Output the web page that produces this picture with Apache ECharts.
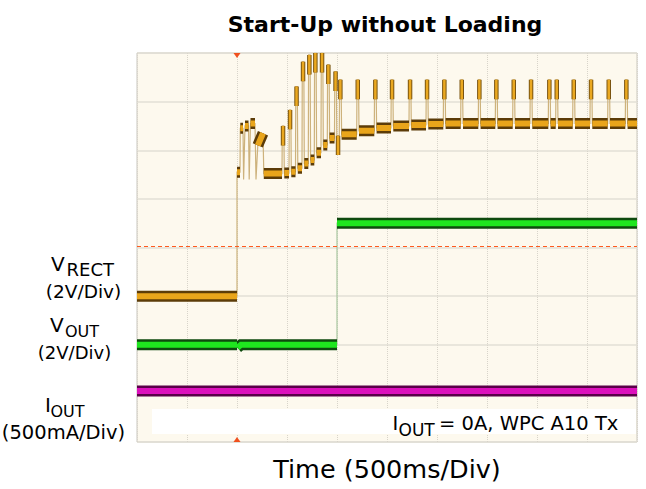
<!DOCTYPE html>
<html><head><meta charset="utf-8">
<script src="https://cdn.jsdelivr.net/npm/echarts@6/dist/echarts.min.js"></script>
<style>html,body{margin:0;padding:0;background:#fff}#c{width:646px;height:489px}</style>
</head><body><div id="c"></div>
<script>
// ---- data (time in ms, amplitude in scope divisions) ----
const timeRange = [0, 5000];          // 10 div x 500 ms
const divRange = [0, 8];              // 8 vertical divisions
const triggerTime = 1000;
const triggerLevel = 4.02;

// VRECT: idle, jump and early bursts (irregular part)
const vrectEarly = [[0,3.0],[1000,3.0],[1000,5.55],[1030,5.55],[1033,6.45],[1060,6.45],[1066,5.4],[1080,6.5],[1115,6.5],[1122,5.4],[1135,6.55],[1180,6.55],[1190,5.4],[1208,6.1],[1260,6.35],[1268,5.52],[1450,5.52]];
// VRECT communication pulses: start time, peak level, level after pulse
const pulseTimes = [1450,1520,1585,1650,1713,1773,1840,1903,1975,2023,2197,2373,2540,2720,2890,3063,3237,3413,3583,3757,3930,4113,4187,4357,4530,4707,4883];
const pulseTops  = [6.5,6.83,7.31,7.82,7.96,8.0,8.0,7.76,7.62,7.45,7.45,7.45,7.45,7.45,7.45,7.45,7.45,7.45,7.45,7.45,7.45,7.45,7.45,7.45,7.45,7.45,7.45];
const pulseBase  = [5.53,5.56,5.63,5.73,5.8,5.95,6.11,6.25,6.3,6.33,6.40,6.46,6.50,6.52,6.54,6.55,6.55,6.55,6.55,6.55,6.55,6.55,6.55,6.55,6.55,6.55,6.55];

// VOUT and IOUT
const voutTrace = [[0,2.0],[1000,2.0],[1005,1.94],[1040,2.0],[2000,2.0],[2000,4.5],[5000,4.5]];
const ioutTrace = [[0,1.05],[5000,1.05]];

// ---- build traces from the arrays ----
const vrectTrace = vrectEarly.slice();
for (let i = 0; i < pulseTimes.length; i++) {
  const t = pulseTimes[i];
  vrectTrace.push([t + 3, pulseTops[i]], [t + 18, pulseTops[i]], [t + 23, pulseBase[i]]);
  const next = i + 1 < pulseTimes.length ? pulseTimes[i + 1] : timeRange[1];
  vrectTrace.push([next, pulseBase[i]]);
}
function bands(trace, minDt) {
  const out = [];
  let last = null;
  for (let i = 0; i < trace.length - 1; i++) {
    const a = trace[i], b = trace[i + 1];
    if (b[0] - a[0] > minDt) {
      if (!(last && last[0] === a[0] && last[1] === a[1])) {
        if (out.length) out.push([a[0], null]);
        out.push(a);
      }
      out.push(b);
      last = b;
    }
  }
  return out;
}
function blobs(trace, maxDt, len) {
  const out = [];
  for (let i = 0; i < trace.length - 1; i++) {
    const a = trace[i], b = trace[i + 1];
    const dt = b[0] - a[0];
    if (dt > 0 && dt <= maxDt && a[1] === b[1]) {
      const m = (a[0] + b[0]) / 2;
      if (out.length) out.push([m, null]);
      out.push([m, a[1] - len], [m, a[1]]);
    }
  }
  return out;
}

const FONT = 'DejaVu Sans';
function line(name, data, color, width, z, extra) {
  return Object.assign({
    type: 'line', name, data, showSymbol: false, symbol: 'none', silent: true,
    connectNulls: false, animation: false, z,
    lineStyle: { color, width, cap: 'butt', join: 'miter' }
  }, extra || {});
}
function txt(text, x, y, size, align) {
  return { type: 'text', z: 10, style: {
    text, x, y, font: size + 'px "DejaVu Sans"', fill: '#000',
    textAlign: align || 'left', textVerticalAlign: 'middle' } };
}

const chart = echarts.init(document.getElementById('c'), null, { renderer: 'svg' });
chart.setOption({
  animation: false,
  backgroundColor: '#ffffff',
  title: {
    text: 'Start-Up without Loading', left: 385, top: 13, padding: 0, textAlign: 'center',
    textStyle: { fontFamily: FONT, fontWeight: 'bold', fontSize: 22, color: '#000' }
  },
  grid: { left: 137, right: 9, top: 53, bottom: 47, show: true,
          backgroundColor: '#fdf9ee', borderColor: '#c9c6bf', borderWidth: 1 },
  xAxis: {
    type: 'value', min: timeRange[0], max: timeRange[1], interval: 500,
    axisLine: { show: false }, axisTick: { show: false }, axisLabel: { show: false },
    splitLine: { show: true, lineStyle: { color: '#d8d4ca', type: 'dotted', width: 1 } },
    name: 'Time (500ms/Div)', nameLocation: 'middle', nameGap: 14,
    nameTextStyle: { fontFamily: FONT, fontSize: 25.5, color: '#000' }
  },
  yAxis: {
    type: 'value', min: divRange[0], max: divRange[1], interval: 1,
    axisLine: { show: false }, axisTick: { show: false }, axisLabel: { show: false },
    splitLine: { show: true, lineStyle: { color: '#e2dfd6', type: 'solid', width: 1.5 } }
  },
  graphic: [
    { type: 'rect', z: 1, shape: { x: 152, y: 409, width: 484, height: 25 }, style: { fill: '#ffffff' } },
    txt('I', 392.5, 423, 19.5),
    txt('OUT', 398.5, 429.5, 17),
    txt('= 0A, WPC A10 Tx', 439, 423, 19.5),

    txt('V', 51, 263.5, 20),
    txt('RECT', 66.5, 269.5, 18),
    txt('(2V/Div)', 83.5, 291.5, 18.5, 'center'),

    txt('V', 50, 324.5, 20),
    txt('OUT', 65, 331, 16),
    txt('(2V/Div)', 74.5, 352, 18, 'center'),

    txt('I', 45, 404.5, 20),
    txt('OUT', 50.5, 411, 16),
    txt('(500mA/Div)', 63.5, 432, 19.5, 'center')
  ],
  series: [
    line('IOUT edge', ioutTrace, '#5a0048', 11, 3, {
      markPoint: {
        silent: true, animation: false, label: { show: false },
        itemStyle: { color: '#f0501e' },
        data: [
          { coord: [triggerTime, divRange[1]], symbol: 'triangle', symbolRotate: 180, symbolSize: [7, 5], symbolOffset: [0, 2.5] },
          { coord: [triggerTime, divRange[0]], symbol: 'triangle', symbolSize: [7, 5], symbolOffset: [0, -2.5] }
        ]
      }
    }),
    line('IOUT', ioutTrace, '#dc10bc', 6, 4),
    line('VOUT trace', voutTrace, '#a9c6a0', 1.2, 5),
    line('VOUT edge', bands(voutTrace, 25), '#0e4a0e', 11, 6),
    line('VOUT', bands(voutTrace, 25), '#1fe61f', 6, 7),
    line('VRECT trace', vrectTrace, '#cdb27c', 1.2, 8, {
      markLine: {
        silent: true, symbol: 'none', animation: false, z: 20,
        lineStyle: { color: '#ff5a1f', type: [4, 3], width: 1.2, opacity: 1 }, label: { show: false },
        data: [{ yAxis: triggerLevel, lineStyle: { color: '#ff5a1f', type: [4, 3], width: 1.2 } }]
      }
    }),
    line('VRECT edge', bands(vrectTrace, 25), '#5c3c08', 11, 9),
    line('VRECT', bands(vrectTrace, 25), '#e9a51b', 6, 10),
    line('VRECT peak edge', blobs(vrectTrace, 25, 0.4), '#7a5410', 4.5, 11),
    line('VRECT peak', blobs(vrectTrace, 25, 0.4), '#eaa820', 2.5, 12)
  ]
});
</script></body></html>
